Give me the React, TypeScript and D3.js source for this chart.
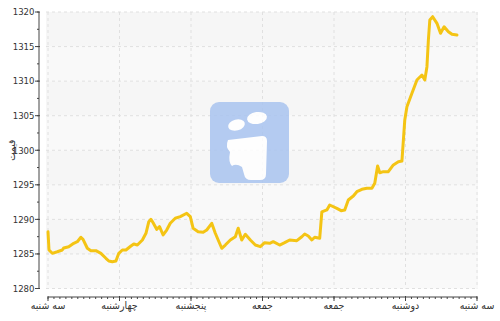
import React from "react";
import * as d3 from "d3";

const dayLabels = ["سه شنبه", "چهارشنبه", "پنجشنبه", "جمعه", "جمعه", "دوشنبه", "سه شنبه"];
const yTicks = [1280, 1285, 1290, 1295, 1300, 1305, 1310, 1315, 1320];
const yAxisTitle = "قیمت";

// time in days since first label, price
const days = [
  0, 0.014, 0.06, 0.13, 0.2, 0.22, 0.29, 0.36, 0.41, 0.46, 0.49, 0.55, 0.6, 0.67, 0.74, 0.81, 0.85, 0.9, 0.95, 0.99,
  1.04, 1.09, 1.16, 1.2, 1.25, 1.32, 1.37, 1.41, 1.44, 1.47, 1.52, 1.56, 1.61, 1.66, 1.71, 1.78, 1.85, 1.94, 1.99,
  2.03, 2.1, 2.17, 2.22, 2.29, 2.34, 2.38, 2.43, 2.48, 2.55, 2.62, 2.66, 2.71, 2.76, 2.83, 2.9, 2.97,
  3.03, 3.1, 3.15, 3.24, 3.31, 3.38, 3.48, 3.55, 3.59, 3.64, 3.69, 3.73, 3.8, 3.83, 3.9, 3.94,
  4.04, 4.1, 4.15, 4.2, 4.27, 4.32, 4.39, 4.46, 4.53, 4.57, 4.61, 4.64, 4.69, 4.76, 4.83, 4.9, 4.95, 4.99,
  5.02, 5.09, 5.16, 5.23, 5.27, 5.3, 5.32, 5.34, 5.38, 5.44, 5.49, 5.54, 5.6, 5.65, 5.72,
];
const prices = [
  1288.2, 1285.57, 1285.09, 1285.32, 1285.57, 1285.86, 1286.05, 1286.54, 1286.77, 1287.41, 1287.12, 1285.82, 1285.47,
  1285.47, 1285.09, 1284.37, 1283.98, 1283.88, 1283.98, 1285.09,
  1285.57, 1285.57, 1286.15, 1286.44, 1286.29, 1287.02, 1287.99, 1289.66, 1290.01, 1289.52, 1288.56, 1288.94, 1287.74,
  1288.46, 1289.43, 1290.16, 1290.39, 1290.88, 1290.39,
  1288.71, 1288.22, 1288.13, 1288.46, 1289.43, 1287.99, 1287.02, 1285.82, 1286.29, 1287.02, 1287.49, 1288.71, 1287.02,
  1287.84, 1287.02, 1286.29, 1286.05,
  1286.63, 1286.54, 1286.77, 1286.29, 1286.63, 1287.02, 1286.92, 1287.49, 1287.88, 1287.59, 1287.02, 1287.41, 1287.26,
  1291.07, 1291.36, 1292.08,
  1291.6, 1291.26, 1291.36, 1292.8, 1293.38, 1294.0, 1294.35, 1294.5, 1294.5, 1295.22, 1297.72, 1296.75, 1296.9,
  1296.9, 1297.87, 1298.34, 1298.44, 1304.38,
  1306.3, 1308.24, 1310.16, 1310.89, 1310.16, 1312.09, 1315.95, 1318.84, 1319.32, 1318.36, 1316.92, 1317.87, 1317.15,
  1316.77, 1316.67,
];

const W = 500;
const H = 321;
const FONT = "'DejaVu Sans Condensed', 'DejaVu Sans', sans-serif";

export default function App() {
  const x = d3.scaleLinear().domain([0, 6]).range([48, 477]);
  const y = d3.scaleLinear().domain([1280, 1320]).range([288.5, 12]);
  const plotL = 46;
  const plotR = 478;
  const axisY = 297;
  const axisX = 39;

  const data = days.map((d, i) => [d, prices[i]] as [number, number]);
  const line = d3
    .line<[number, number]>()
    .x((d) => x(d[0]))
    .y((d) => y(d[1]))
    .curve(d3.curveLinear);

  const minorX = d3.range(0, 6 * 12 + 1).map((i) => i / 12);
  const minorY = d3.range(1280, 1320.01, 2.5);
  const bands = d3.range(0, yTicks.length - 1);

  return (
    <svg width={W} height={H} style={{ position: "absolute", left: 0, top: 0, background: "#fff" }}>
      {/* plot background bands */}
      {bands.map((i) => (
        <rect
          key={"b" + i}
          x={plotL}
          y={y(yTicks[i + 1])}
          width={plotR - plotL}
          height={y(yTicks[i]) - y(yTicks[i + 1])}
          fill={i % 2 === 0 ? "#f9f9f9" : "#f6f6f6"}
        />
      ))}
      {/* grid */}
      {yTicks.map((t) => (
        <line
          key={"gy" + t}
          x1={plotL}
          x2={plotR}
          y1={y(t)}
          y2={y(t)}
          stroke="#e0e0e0"
          strokeDasharray="3,3"
        />
      ))}
      {dayLabels.map((_, i) => (
        <line
          key={"gx" + i}
          x1={x(i)}
          x2={x(i)}
          y1={y(1320)}
          y2={y(1280)}
          stroke="#e0e0e0"
          strokeDasharray="3,3"
        />
      ))}
      {/* watermark logo */}
      <g opacity={0.85}>
        <rect x={210} y={102} width={79} height={81} rx={9} fill="#a9c4f0" />
        <ellipse cx={236.5} cy={125} rx={8.5} ry={5.5} fill="#fff" transform="rotate(-15 236.5 125)" />
        <ellipse cx={257} cy={118} rx={10} ry={6} fill="#fff" transform="rotate(-8 257 118)" />
        <path
          d="M228,140 L262,136 Q267,136 267,141 L266,174 Q266,180 260,180 L251,180 Q245,180 244,174 L242,167 Q236,163 232,166 Q228,162 230,152 Q225,147 228,140 Z"
          fill="#fff"
        />
      </g>
      {/* line */}
      <path d={line(data) || ""} fill="none" stroke="#f4c414" strokeWidth={3} strokeLinejoin="round" strokeLinecap="round" />
      {/* y axis */}
      <line x1={axisX} x2={axisX} y1={y(1320)} y2={y(1280)} stroke="#444" strokeWidth={1} />
      {minorY.map((t) => (
        <line key={"my" + t} x1={axisX - 2} x2={axisX} y1={y(t)} y2={y(t)} stroke="#444" />
      ))}
      {yTicks.map((t) => (
        <g key={"ty" + t}>
          <line x1={axisX - 4} x2={axisX + 1} y1={y(t)} y2={y(t)} stroke="#444" />
          <text
            x={34.5}
            y={y(t)}
            dy="0.35em"
            textAnchor="end"
            fontFamily={FONT}
            fontSize={9.5}
            fill="#333"
          >
            {t}
          </text>
        </g>
      ))}
      <text
        transform={`translate(11,${y(1300)}) rotate(-90)`}
        textAnchor="middle"
        fontFamily={FONT}
        fontSize={10}
        fill="#333"
        dy="0.35em"
      >
        {yAxisTitle}
      </text>
      {/* x axis */}
      <line x1={x(0)} x2={x(6)} y1={axisY} y2={axisY} stroke="#444" />
      {minorX.map((t, i) => (
        <line key={"mx" + i} x1={x(t)} x2={x(t)} y1={axisY} y2={axisY + 2} stroke="#444" />
      ))}
      {dayLabels.map((lab, i) => (
        <g key={"tx" + i}>
          <line x1={x(i)} x2={x(i)} y1={axisY - 1} y2={axisY + 4} stroke="#444" />
          <text
            x={x(i)}
            y={308.5}
            textAnchor="middle"
            fontFamily={FONT}
            fontSize={10.5}
            fill="#333"
          >
            {lab}
          </text>
        </g>
      ))}
    </svg>
  );
}
